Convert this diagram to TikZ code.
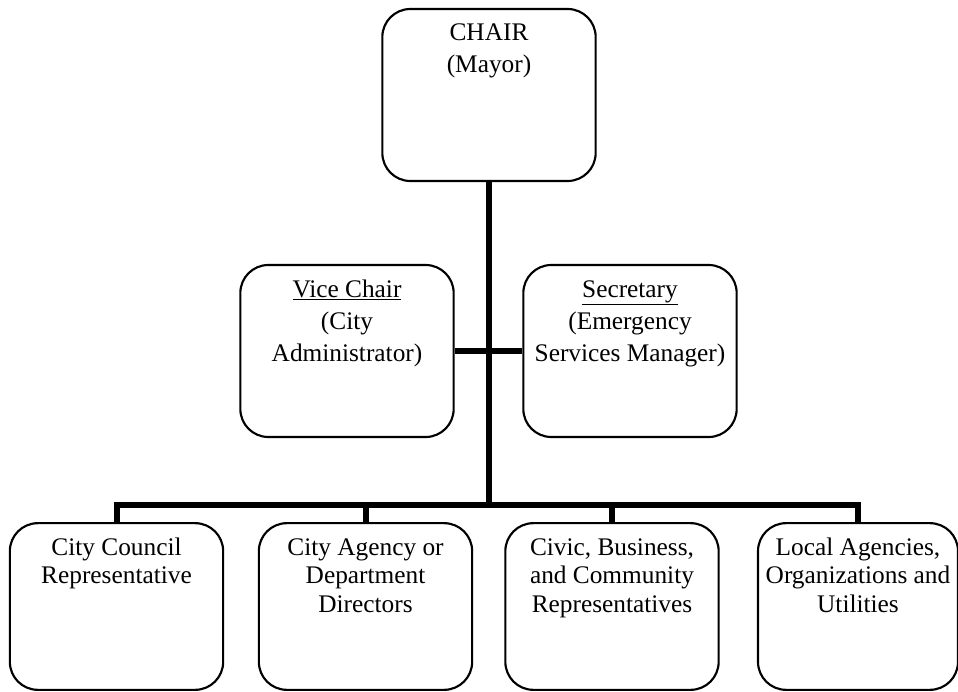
\documentclass[tikz,border=0pt]{standalone}
\usepackage{fontspec}
\setmainfont{Liberation Serif}
\usetikzlibrary{positioning}

\newcommand{\cardtext}[3]{\parbox[c][#1][t]{150pt}{\centering\fontsize{19}{#2}\selectfont\rule{0pt}{24pt}#3}}

\begin{document}
\begin{tikzpicture}[x=0.75pt,y=0.75pt,yscale=-1,xscale=1,
  unit/.style={draw, line width=1.6pt, rounded corners=21pt, inner sep=0pt, minimum width=160pt},
  trunk/.style={line width=4.5pt}]
\useasboundingbox (0,0) rectangle (958,692);

% Chair
\node[unit] (chair) at (489,95) {\cardtext{129pt}{24pt}{CHAIR\\(Mayor)}};

% Vice Chair and Secretary
\node[unit] (vice) at (347,351) {\cardtext{129pt}{24pt}{\underline{Vice Chair}\\(City\\Administrator)}};
\node[unit] (sec) at (630,351) {\cardtext{129pt}{24pt}{\underline{Secretary}\\(Emergency\\Services Manager)}};

% Members
\node[unit] (cc) at (116.5,606.5) {\cardtext{125pt}{21.5pt}{City Council\\Representative}};
\node[unit] (ag) at (365.5,606.5) {\cardtext{125pt}{21.5pt}{City Agency or\\Department\\Directors}};
\node[unit] (civ) at (612,606.5) {\cardtext{125pt}{21.5pt}{Civic, Business,\\and Community\\Representatives}};
\node[unit, minimum width=150pt] (loc) at (858,606.5) {\cardtext{125pt}{21.5pt}{Local Agencies,\\Organizations and\\Utilities}};

% Lines
\coordinate (bus) at (489,505);
\draw[trunk] (chair.south) -- (bus);
\draw[trunk] (vice.east) -- (sec.west);
\draw[trunk] (cc.north) |- (bus) -| (loc.north);
\draw[trunk] (ag.north) -- (ag.north |- bus);
\draw[trunk] (civ.north) -- (civ.north |- bus);

\end{tikzpicture}
\end{document}
